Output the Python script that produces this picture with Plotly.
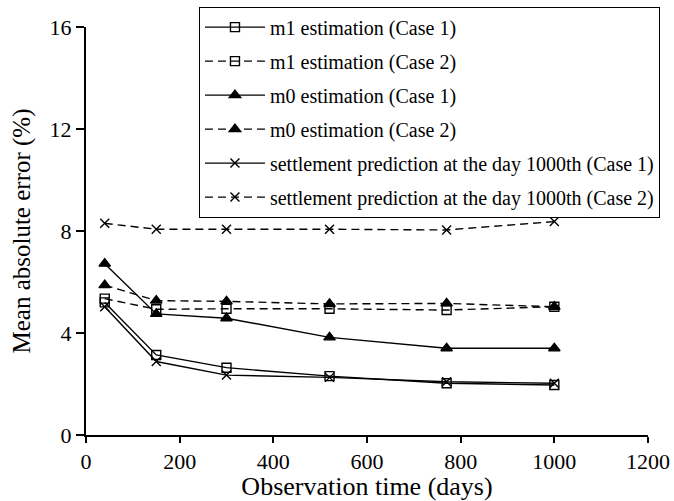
import plotly.graph_objects as go

days = [40, 150, 300, 520, 770, 1000]
m1_case1 = [5.20, 3.14, 2.64, 2.31, 2.03, 1.96]
m1_case2 = [5.35, 4.93, 4.95, 4.95, 4.90, 5.03]
m0_case1 = [6.72, 4.75, 4.58, 3.83, 3.40, 3.40]
m0_case2 = [5.88, 5.27, 5.24, 5.14, 5.16, 5.03]
s_case1 = [5.03, 2.88, 2.35, 2.26, 2.09, 2.03]
s_case2 = [8.30, 8.07, 8.07, 8.07, 8.04, 8.37]

names = [
    "m1 estimation (Case 1)",
    "m1 estimation (Case 2)",
    "m0 estimation (Case 1)",
    "m0 estimation (Case 2)",
    "settlement prediction at the day 1000th (Case 1)",
    "settlement prediction at the day 1000th (Case 2)",
]
series = [m1_case1, m1_case2, m0_case1, m0_case2, s_case1, s_case2]
dashes = ["solid", "8px,5px", "solid", "8px,5px", "solid", "8px,5px"]
symbols = ["square-open", "square-open", "triangle-up", "triangle-up", "x-thin-open", "x-thin-open"]
sizes = [9, 9, 10, 10, 9, 9]

FONT = "Liberation Serif"

fig = go.Figure()
for i, (nm, ys) in enumerate(zip(names, series)):
    fig.add_trace(go.Scatter(
        x=days, y=ys, name=nm, mode="lines+markers",
        legendgroup=f"g{i}",
        line=dict(color="black", width=1.4, dash=dashes[i]),
        marker=dict(symbol=symbols[i], size=sizes[i], color="black",
                    line=dict(color="black", width=1.4)),
    ))

fig.update_layout(
    width=674, height=501,
    margin=dict(l=86, r=26, t=27, b=66, autoexpand=False),
    paper_bgcolor="white", plot_bgcolor="white",
    font=dict(family=FONT, color="black", size=22),
    showlegend=True,
    legend=dict(
        x=0.201, xanchor="left", y=1.05, yanchor="top",
        bgcolor="white", bordercolor="black", borderwidth=1,
        font=dict(family=FONT, size=20, color="black"),
        tracegroupgap=5, traceorder="grouped", itemwidth=60,
    ),
    xaxis=dict(
        range=[0, 1200], tickvals=[0, 200, 400, 600, 800, 1000, 1200],
        showgrid=False, zeroline=False, showline=True, linecolor="black", linewidth=2,
        ticks="outside", ticklen=6, tickwidth=1.5, tickcolor="black",
        tickfont=dict(size=22, family=FONT),
        title=dict(text="Observation time (days)", font=dict(size=26, family=FONT), standoff=10),
    ),
    yaxis=dict(
        range=[0, 16], tickvals=[0, 4, 8, 12, 16],
        showgrid=False, zeroline=False, showline=True, linecolor="black", linewidth=2,
        ticks="outside", ticklen=8, tickwidth=1.5, tickcolor="black",
        tickfont=dict(size=22, family=FONT),
        title=dict(text="Mean absolute error (%)", font=dict(size=25, family=FONT), standoff=12),
    ),
)

fig.write_html("out.html")
